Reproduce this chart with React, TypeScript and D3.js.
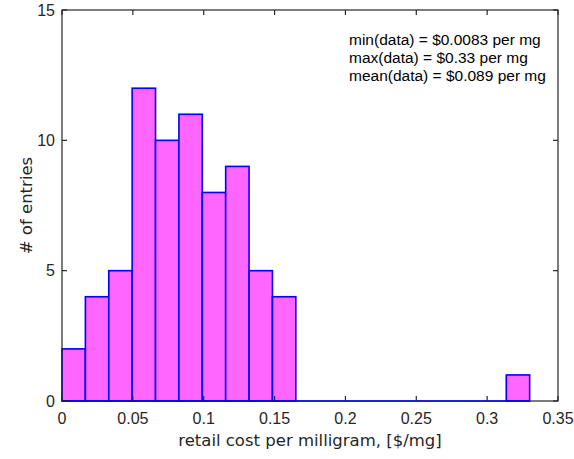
import React, { useEffect, useRef } from "react";
import * as d3 from "d3";

// histogram bins (bin width 0.0165, starting at 0)
const binWidth = 0.0165;
const counts = [2, 4, 5, 12, 10, 11, 8, 9, 5, 4, 0, 0, 0, 0, 0, 0, 0, 0, 0, 1];
const xTicks = [0, 0.05, 0.1, 0.15, 0.2, 0.25, 0.3, 0.35];
const yTicks = [0, 5, 10, 15];
const statLines = [
  "min(data) = $0.0083 per mg",
  "max(data) = $0.33 per mg",
  "mean(data) = $0.089 per mg",
];

export default function App() {
  const svgRef = useRef<SVGSVGElement>(null);

  useEffect(() => {
    const width = 574;
    const height = 459;
    const margin = { top: 10, right: 16, bottom: 58, left: 62 };

    const svg = d3.select(svgRef.current);
    svg.selectAll("*").remove();
    svg.attr("width", width).attr("height", height);

    const x = d3.scaleLinear().domain([0, 0.35]).range([margin.left, width - margin.right]);
    const y = d3.scaleLinear().domain([0, 15]).range([height - margin.bottom, margin.top]);

    const axisColor = "#262626";
    const tickFont = "Liberation Sans, Arial, sans-serif";
    const labelFont = "DejaVu Sans, sans-serif";

    // Bars
    svg
      .append("g")
      .selectAll("rect")
      .data(counts)
      .enter()
      .append("rect")
      .attr("x", (d, i) => x(i * binWidth))
      .attr("y", (d) => y(d))
      .attr("width", (d, i) => x((i + 1) * binWidth) - x(i * binWidth))
      .attr("height", (d) => y(0) - y(d))
      .attr("fill", "#ff66ff")
      .attr("stroke", "#0000ff")
      .attr("stroke-width", 1.6);

    // Axes box
    svg
      .append("rect")
      .attr("x", x(0))
      .attr("y", y(15))
      .attr("width", x(0.35) - x(0))
      .attr("height", y(0) - y(15))
      .attr("fill", "none")
      .attr("stroke", axisColor)
      .attr("stroke-width", 1.2);

    // zero-height bins show as a blue line on the baseline
    svg
      .append("line")
      .attr("x1", x(0))
      .attr("x2", x(counts.length * binWidth))
      .attr("y1", y(0))
      .attr("y2", y(0))
      .attr("stroke", "#0000ff")
      .attr("stroke-width", 1.6);

    const tickLen = 5;
    const ticks = svg.append("g").attr("stroke", axisColor).attr("stroke-width", 1.2);
    xTicks.forEach((t) => {
      ticks.append("line").attr("x1", x(t)).attr("x2", x(t)).attr("y1", y(0)).attr("y2", y(0) - tickLen);
      ticks.append("line").attr("x1", x(t)).attr("x2", x(t)).attr("y1", y(15)).attr("y2", y(15) + tickLen);
    });
    yTicks.forEach((t) => {
      ticks.append("line").attr("x1", x(0)).attr("x2", x(0) + tickLen).attr("y1", y(t)).attr("y2", y(t));
      ticks.append("line").attr("x1", x(0.35)).attr("x2", x(0.35) - tickLen).attr("y1", y(t)).attr("y2", y(t));
    });

    // Tick labels
    svg
      .append("g")
      .selectAll("text")
      .data(xTicks)
      .enter()
      .append("text")
      .attr("x", (d) => x(d))
      .attr("y", y(0) + 23)
      .attr("text-anchor", "middle")
      .style("font-family", tickFont)
      .style("font-size", "16px")
      .attr("fill", axisColor)
      .text((d) => String(d));

    svg
      .append("g")
      .selectAll("text")
      .data(yTicks)
      .enter()
      .append("text")
      .attr("x", x(0) - 7)
      .attr("y", (d) => y(d))
      .attr("dy", "0.35em")
      .attr("text-anchor", "end")
      .style("font-family", tickFont)
      .style("font-size", "16px")
      .attr("fill", axisColor)
      .text((d) => String(d));

    // Axis labels
    svg
      .append("text")
      .attr("x", (x(0) + x(0.35)) / 2)
      .attr("y", y(0) + 45)
      .attr("text-anchor", "middle")
      .style("font-family", labelFont)
      .style("font-size", "16.5px")
      .attr("fill", axisColor)
      .text("retail cost per milligram, [$/mg]");

    svg
      .append("text")
      .attr("transform", `translate(32, ${(y(0) + y(15)) / 2}) rotate(-90)`)
      .attr("text-anchor", "middle")
      .style("font-family", labelFont)
      .style("font-size", "16.5px")
      .attr("fill", axisColor)
      .text("# of entries");

    // Stats text
    svg
      .append("g")
      .selectAll("text")
      .data(statLines)
      .enter()
      .append("text")
      .attr("x", 349)
      .attr("y", (d, i) => 45 + i * 18)
      .style("font-family", tickFont)
      .style("font-size", "15.5px")
      .attr("fill", "#000")
      .text((d) => d);
  }, []);

  return <svg ref={svgRef} style={{ position: "absolute", left: 0, top: 0 }}></svg>;
}
